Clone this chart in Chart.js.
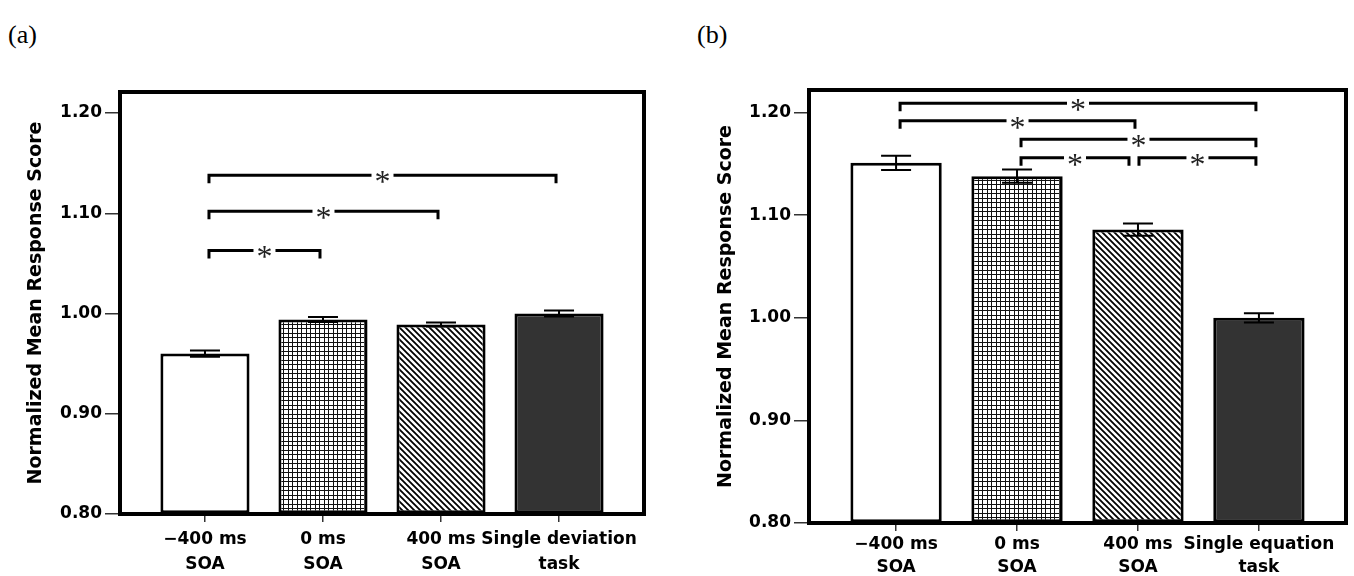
<!DOCTYPE html>
<html>
<head>
<meta charset="utf-8">
<script src="https://cdn.jsdelivr.net/npm/chart.js"></script>
<style>
  body { margin: 0; background: #fff; width: 1354px; height: 576px; overflow: hidden; position: relative; }
  .panel { position: absolute; top: 20px; font-family: "Liberation Serif", serif; font-size: 26px; line-height: 30px; color: #000; }
  .box { position: absolute; top: 0; height: 576px; }
</style>
</head>
<body>
<div class="panel" style="left:8px;">(a)</div>
<div class="panel" style="left:697px;">(b)</div>
<div class="box" style="left:0; width:680px;"><canvas id="chartA" width="680" height="576"></canvas></div>
<div class="box" style="left:690px; width:664px;"><canvas id="chartB" width="664" height="576"></canvas></div>
<script>
// shared y axis
const yMin = 0.8;
const yTicks = [0.8, 0.9, 1.0, 1.1, 1.2];

// (a) dual task with deviation
const catsA = [["−400 ms", "SOA"], ["0 ms", "SOA"], ["400 ms", "SOA"], ["Single deviation", "task"]];
const meanA = [0.960, 0.994, 0.989, 1.000];
const errA = [0.003, 0.0025, 0.002, 0.003];
const pairsA = [[0, 3], [0, 2], [0, 1]];
const levelsA = [1.138, 1.102, 1.063];

// (b) dual task with equation
const catsB = [["−400 ms", "SOA"], ["0 ms", "SOA"], ["400 ms", "SOA"], ["Single equation", "task"]];
const meanB = [1.151, 1.138, 1.086, 1.000];
const errB = [0.007, 0.0065, 0.006, 0.0045];
const pairsB = [[0, 3], [0, 2], [1, 3], [1, 2], [2, 3]];
const levelsB = [1.209, 1.192, 1.174, 1.156, 1.156];

Chart.defaults.font.family = "'DejaVu Sans', sans-serif";

function gridPattern() {
  const c = document.createElement("canvas");
  c.width = 9; c.height = 9;
  const g = c.getContext("2d");
  g.fillStyle = "#fff"; g.fillRect(0, 0, 9, 9);
  g.fillStyle = "#111";
  g.fillRect(0, 0, 9, 1); g.fillRect(0, 4, 9, 1);
  g.fillRect(0, 0, 1, 9); g.fillRect(4, 0, 1, 9);
  return g.createPattern(c, "repeat");
}

function hatchPattern() {
  const s = 6;
  const c = document.createElement("canvas");
  c.width = s; c.height = s;
  const g = c.getContext("2d");
  g.fillStyle = "#fff"; g.fillRect(0, 0, s, s);
  g.strokeStyle = "#000"; g.lineWidth = 1.8;
  g.beginPath();
  g.moveTo(-1, -1); g.lineTo(s + 1, s + 1);
  g.moveTo(-1, s - 1); g.lineTo(1, s + 1);
  g.moveTo(s - 1, -1); g.lineTo(s + 1, 1);
  g.stroke();
  return g.createPattern(c, "repeat");
}

// error bars, significance brackets and the box round the plot
const annot = {
  id: "annot",
  afterDatasetsDraw(chart) {
    const { ctx, scales: { x, y } } = chart;
    const ds = chart.data.datasets[0];
    ctx.save();
    ctx.strokeStyle = "#000";
    ctx.lineWidth = 2;
    ds.data.forEach((p, i) => {
      const e = ds.errs[i];
      const px = x.getPixelForValue(p.x);
      const top = y.getPixelForValue(p.y + e), bot = y.getPixelForValue(p.y - e);
      ctx.beginPath();
      ctx.moveTo(px, top); ctx.lineTo(px, bot);
      ctx.moveTo(px - 15, top); ctx.lineTo(px + 15, top);
      ctx.moveTo(px - 15, bot); ctx.lineTo(px + 15, bot);
      ctx.stroke();
    });

    ctx.lineWidth = 3;
    ctx.font = "32px 'Liberation Serif'";
    ctx.textAlign = "center";
    ctx.textBaseline = "alphabetic";
    ctx.fillStyle = "#222";
    ds.pairs.forEach(([a, b], k) => {
      const lv = ds.levels[k];
      const next = ds.pairs.some(([c], m) => m !== k && c === b && ds.levels[m] === lv);
      const prev = ds.pairs.some(([, d], m) => m !== k && d === a && ds.levels[m] === lv);
      const x0 = x.getPixelForValue(a) + (prev ? 1 : 4);
      const x1 = x.getPixelForValue(b) - (next ? 9 : 3);
      const py = y.getPixelForValue(lv);
      const mid = (x0 + x1) / 2;
      ctx.beginPath();
      ctx.moveTo(x0, py + 8); ctx.lineTo(x0, py); ctx.lineTo(mid - 11, py);
      ctx.moveTo(mid + 11, py); ctx.lineTo(x1, py); ctx.lineTo(x1, py + 8);
      ctx.stroke();
      ctx.fillText("*", mid, py + 17);
    });
    ctx.restore();
  },
  afterDraw(chart) {
    const { ctx, chartArea: a } = chart;
    ctx.save();
    ctx.strokeStyle = "#000";
    ctx.lineWidth = 4;
    ctx.strokeRect(a.left, a.top, a.right - a.left, a.bottom - a.top);
    ctx.restore();
  }
};

function makeChart(id, cats, means, errs, pairs, levels, o) {
  return new Chart(document.getElementById(id), {
    type: "bar",
    data: {
      datasets: [{
        data: means.map((v, i) => ({ x: i, y: v })),
        backgroundColor: ["#fff", gridPattern(), hatchPattern(), "#333"],
        borderColor: "#000",
        borderWidth: 3,
        borderSkipped: false,
        base: yMin,
        categoryPercentage: 0.755,
        barPercentage: 1,
        errs: errs,
        pairs: pairs,
        levels: levels
      }]
    },
    options: {
      responsive: false,
      animation: false,
      devicePixelRatio: 1,
      layout: { padding: o.pad },
      plugins: { legend: { display: false }, tooltip: { enabled: false } },
      scales: {
        x: {
          type: "linear",
          min: -0.72,
          max: 3.72,
          offset: false,
          afterBuildTicks: s => { s.ticks = cats.map((_, i) => ({ value: i })); },
          afterFit: s => { s.height = o.xh; },
          ticks: {
            callback: v => cats[v],
            color: "#000",
            padding: o.xpad,
            maxRotation: 0,
            autoSkip: false,
            font: { size: 17, weight: "bold", lineHeight: o.lh }
          },
          grid: { drawOnChartArea: false, offset: false, tickLength: 8, color: "#333", lineWidth: 1.5 },
          border: { display: false }
        },
        y: {
          min: yMin,
          max: o.yMax,
          beginAtZero: false,
          afterBuildTicks: s => { s.ticks = yTicks.map(v => ({ value: v })); },
          afterFit: s => { s.width = o.yw; },
          ticks: {
            callback: v => v.toFixed(2),
            color: "#000",
            padding: 3,
            font: { size: 17, weight: "bold" }
          },
          grid: { drawOnChartArea: false, tickLength: 15, color: "#333", lineWidth: 1.5 },
          border: { display: false },
          title: {
            display: true,
            text: "Normalized Mean Response Score",
            color: "#000",
            padding: 0,
            font: { size: 19, weight: "bold" }
          }
        }
      }
    },
    plugins: [annot]
  });
}

makeChart("chartA", catsA, meanA, errA, pairsA, levelsA, {
  pad: { left: 25, top: 92, right: 36, bottom: 0 },
  yw: 95, xh: 62, xpad: 5, lh: 1.47, yMax: 1.221
});
makeChart("chartB", catsB, meanB, errB, pairsB, levelsB, {
  pad: { left: 25, top: 90, right: 8, bottom: 0 },
  yw: 94, xh: 53, xpad: 3, lh: 1.3, yMax: 1.222
});
</script>
</body>
</html>
